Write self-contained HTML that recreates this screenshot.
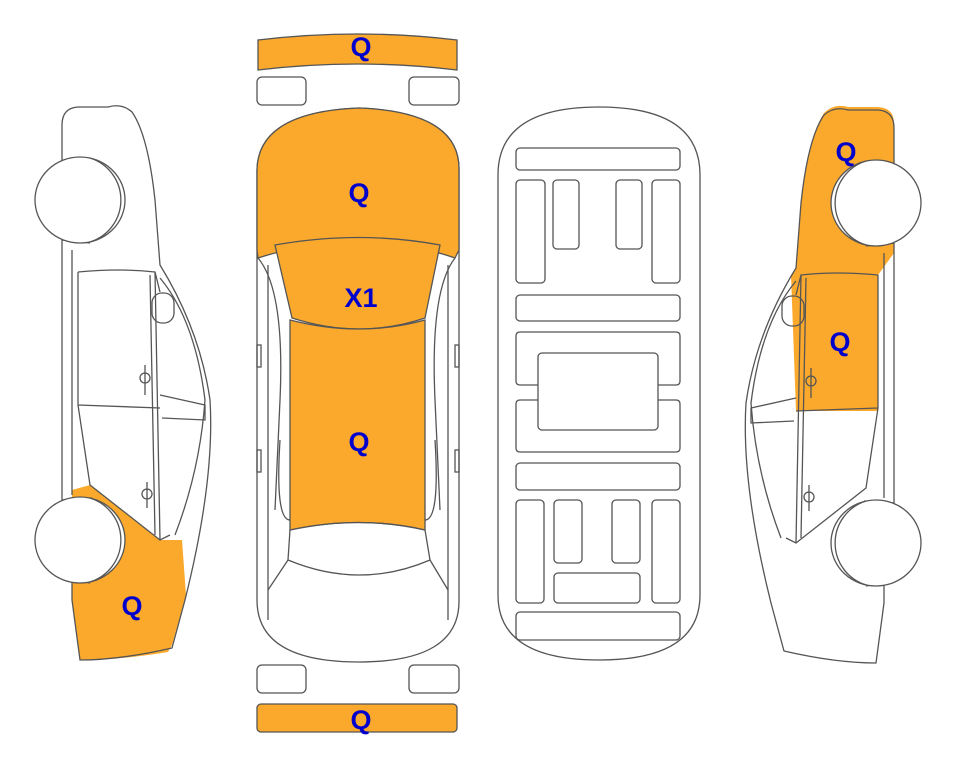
<!DOCTYPE html>
<html><head><meta charset="utf-8"><style>
html,body{margin:0;padding:0;background:#fff;width:963px;height:768px;overflow:hidden}
svg{display:block}
text{font-family:"Liberation Sans",Arial,sans-serif;font-weight:bold;font-size:27px;fill:#0000cc;text-anchor:middle}
</style></head><body>
<svg width="963" height="768" viewBox="0 0 963 768" xmlns="http://www.w3.org/2000/svg">
<defs>
<g id="side" fill="none" stroke="#555" stroke-width="1.3">
  <path d="M62,125 Q62,108 78,107 L108,107 Q122,103 132,112 Q148,135 155,200 L160,265 Q200,330 210,400 Q215,480 185,600 L172,648 Q120,660 80,660 L72,600 L72,580"/>
  <path d="M62,125 L62,165 M62,240 L62,500 M72,250 L72,495"/>
  <path d="M62,165 L90,163 Q120,165 125,200 M62,240 L90,243"/>
  <path d="M62,500 L92,498 M72,580 L90,583"/>
  <path d="M78,272 Q120,268 155,272 L160,292 M155,272 L160,540 M150,275 L155,535"/>
  <path d="M78,272 L78,405 L90,485 L160,540 L170,535 M78,405 L160,408"/>
  <path d="M160,278 Q195,320 205,400 Q200,470 175,535"/>
  <path d="M160,395 L205,405 L205,420 L162,418"/>
  <rect x="152" y="293" width="22" height="30" rx="10"/>
  <path d="M145,365 L145,395 M140,378 a5,5 0 1,0 10,0 a5,5 0 1,0 -10,0"/>
  <path d="M147,482 L147,508 M142,494 a5,5 0 1,0 10,0 a5,5 0 1,0 -10,0"/>
  <ellipse cx="80" cy="200" rx="45" ry="43" fill="#fff"/>
  <path d="M90,158 A44,44 0 0,1 90,242"/>
  <ellipse cx="80" cy="540" rx="45" ry="43" fill="#fff"/>
  <path d="M90,498 A44,44 0 0,1 90,582"/>
</g>
</defs>

<!-- left side car -->
<path d="M90,485 L160,540 L182,540 L186,595 L172,645 L168,652 Q120,660 80,660 L72,600 L72,490 Z" fill="#fba92c"/>
<use href="#side"/>
<text x="132" y="615">Q</text>

<!-- right side car (mirrored) -->
<g transform="translate(956,3) scale(-1,1)">
  <path d="M62,120 Q62,105 78,104 L108,104 Q122,100 132,110 Q148,135 155,200 L160,265 L165,272 L160,408 L78,408 L78,272 L62,250 Z" fill="#fba92c"/>
  <use href="#side"/>
</g>
<text x="846" y="161">Q</text>
<text x="840" y="351">Q</text>

<!-- top view -->
<path d="M258,40 Q358,28 457,40 L457,70 Q358,58 258,70 Z" fill="#fba92c" stroke="#555" stroke-width="1.3"/>
<text x="361" y="56">Q</text>
<rect x="257" y="77" width="49" height="28" rx="5" fill="#fff" stroke="#555" stroke-width="1.3"/>
<rect x="409" y="77" width="50" height="28" rx="5" fill="#fff" stroke="#555" stroke-width="1.3"/>
<rect x="257" y="665" width="49" height="28" rx="5" fill="#fff" stroke="#555" stroke-width="1.3"/>
<rect x="409" y="665" width="50" height="28" rx="5" fill="#fff" stroke="#555" stroke-width="1.3"/>
<rect x="257" y="704" width="200" height="28" rx="4" fill="#fba92c" stroke="#555" stroke-width="1.3"/>
<text x="361" y="729">Q</text>

<g fill="none" stroke="#555" stroke-width="1.3">
  <path d="M257,170 Q258,112 359,108 Q460,112 459,170 L459,600 Q460,662 359,662 Q257,662 257,600 Z" fill="#fff"/>
  <path d="M257,170 Q258,112 359,108 Q460,112 459,170 L459,250 L455,258 Q360,225 258,258 L257,250 Z" fill="#fba92c"/>
  <path d="M275,245 Q360,230 440,245 L425,318 Q360,340 292,318 Z" fill="#fba92c"/>
  <path d="M290,320 Q360,338 425,320 L425,530 Q360,515 290,530 Z" fill="#fba92c"/>
  <path d="M290,530 Q360,515 425,530 L430,560 Q360,590 288,560 Z"/>
  <path d="M258,258 Q285,290 280,400 L275,510 M455,258 Q430,290 435,400 L440,510"/>
  <path d="M268,265 L268,620 M448,265 L448,620"/>
  <path d="M288,560 L268,590 M430,560 L448,590"/>
  <path d="M280,440 Q275,520 290,520 M435,440 Q440,520 425,520"/>
  <rect x="257" y="345" width="4" height="22"/><rect x="455" y="345" width="4" height="22"/>
  <rect x="257" y="450" width="4" height="22"/><rect x="455" y="450" width="4" height="22"/>
</g>
<text x="359" y="202">Q</text>
<text x="361" y="307">X1</text>
<text x="359" y="451">Q</text>

<!-- underside -->
<g fill="none" stroke="#555" stroke-width="1.3">
  <path d="M498,175 Q498,107 599,107 Q700,107 700,175 L700,595 Q700,660 599,660 Q498,660 498,595 Z"/>
  <rect x="516" y="148" width="164" height="22" rx="4"/>
  <rect x="516" y="180" width="29" height="103" rx="4"/>
  <rect x="553" y="180" width="26" height="69" rx="4"/>
  <rect x="616" y="180" width="26" height="69" rx="4"/>
  <rect x="652" y="180" width="28" height="103" rx="4"/>
  <rect x="516" y="295" width="164" height="26" rx="4"/>
  <path d="M538,385 L520,385 Q516,385 516,381 L516,336 Q516,332 520,332 L676,332 Q680,332 680,336 L680,381 Q680,385 676,385 L658,385"/>
  <path d="M538,400 L520,400 Q516,400 516,404 L516,448 Q516,452 520,452 L676,452 Q680,452 680,448 L680,404 Q680,400 676,400 L658,400"/>
  <rect x="538" y="353" width="120" height="77" rx="4"/>
  <rect x="516" y="463" width="164" height="27" rx="4"/>
  <rect x="516" y="500" width="28" height="103" rx="4"/>
  <rect x="554" y="500" width="28" height="63" rx="4"/>
  <rect x="612" y="500" width="28" height="63" rx="4"/>
  <rect x="652" y="500" width="28" height="103" rx="4"/>
  <rect x="554" y="573" width="86" height="30" rx="4"/>
  <rect x="516" y="612" width="164" height="28" rx="4"/>
</g>
</svg>
</body></html>
